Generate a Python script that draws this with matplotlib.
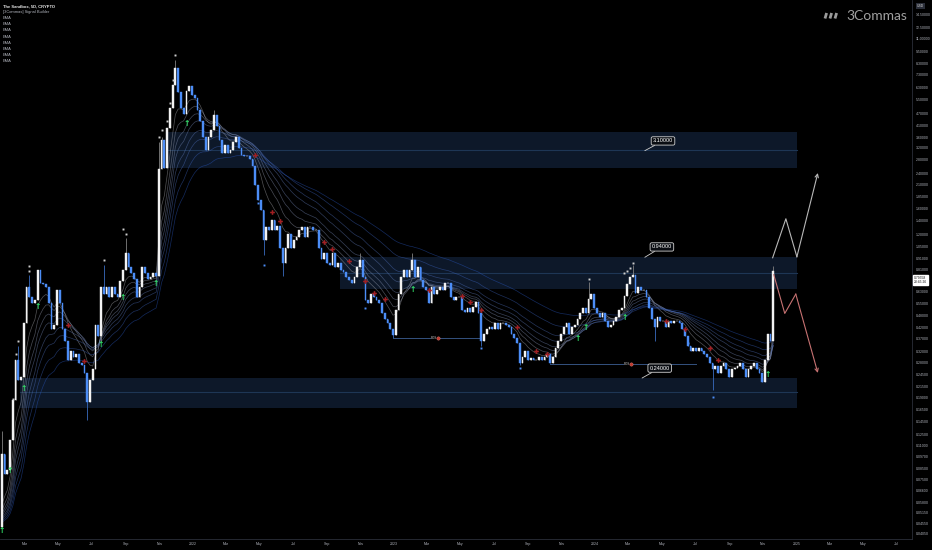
import numpy as np
import pandas as pd
import matplotlib
matplotlib.use("Agg")
import matplotlib.pyplot as plt
import matplotlib.dates as mdates
from matplotlib.lines import Line2D

plt.rcParams['font.family'] = ['Liberation Sans', 'DejaVu Sans']

# ---- The Sandbox 5D candles, closes ----
first_date = "2021-01-19"
first_open = 0.044
closes = [
    0.10, 0.080, 0.083, 0.117, 0.184, 0.289, 0.23, 0.24, 0.44, 0.66,
    0.59, 0.55, 0.57, 0.80, 0.69, 0.68, 0.66, 0.55, 0.41, 0.43,
    0.64, 0.55, 0.41, 0.36, 0.29, 0.32, 0.30, 0.31, 0.28, 0.275,
    0.25, 0.18, 0.23, 0.26, 0.43, 0.38, 0.66, 0.61, 0.66, 0.59,
    0.66, 0.61, 0.59, 0.71, 0.80, 0.97, 0.83, 0.77, 0.72, 0.59,
    0.66, 0.83, 0.77, 0.72, 0.74, 0.77, 0.75, 2.5, 3.5, 2.55,
    4.0, 5.0, 6.5, 7.9, 6.0, 5.0, 4.7, 6.1, 6.4, 5.8,
    5.6, 4.9, 4.3, 3.6, 3.1, 3.6, 3.9, 4.6, 4.1, 3.5,
    3.0, 3.3, 3.0, 3.1, 3.4, 3.6, 3.2, 2.95, 2.9, 2.9,
    2.8, 2.6,
    2.09, 1.77, 1.58, 1.12, 1.30, 1.26, 1.41, 1.26, 1.32, 1.03,
    0.87, 1.03, 1.21, 1.03, 1.12, 1.16, 1.26, 1.30, 1.16, 1.30,
    1.30, 1.26, 1.26, 1.03, 0.91, 0.97, 0.87, 0.85, 0.97, 0.83,
    0.87, 0.80, 0.78, 0.74, 0.715, 0.69, 0.74, 0.83, 0.896, 0.74,
    0.57, 0.55, 0.61, 0.59, 0.57, 0.55, 0.49, 0.46, 0.44, 0.41,
    0.385, 0.51, 0.61, 0.74, 0.80, 0.74, 0.80, 0.896, 0.74, 0.83,
    0.715, 0.66, 0.64, 0.55, 0.66, 0.61, 0.64, 0.66, 0.64, 0.69,
    0.69, 0.59, 0.57, 0.59, 0.59, 0.51, 0.50, 0.52, 0.50, 0.53,
    0.56, 0.49, 0.36, 0.39, 0.41, 0.42, 0.41, 0.44, 0.41, 0.44,
    0.44, 0.43, 0.42, 0.39, 0.37, 0.35,
    0.28, 0.30, 0.32, 0.29, 0.295, 0.29, 0.29, 0.30, 0.29, 0.30,
    0.31, 0.28, 0.30, 0.33, 0.36, 0.39, 0.42, 0.44, 0.39, 0.42,
    0.43, 0.46, 0.49, 0.52, 0.49, 0.58, 0.61, 0.52, 0.49, 0.47,
    0.49, 0.45, 0.42, 0.43, 0.45, 0.47, 0.51, 0.52, 0.60, 0.68,
    0.74, 0.76, 0.62, 0.66, 0.64, 0.64, 0.59, 0.52, 0.46, 0.42,
    0.47, 0.45, 0.45, 0.42, 0.45, 0.44, 0.45, 0.45, 0.44, 0.41,
    0.38, 0.34, 0.32, 0.33, 0.32, 0.33, 0.32, 0.31, 0.30, 0.28,
    0.26, 0.27, 0.25, 0.27, 0.28, 0.26, 0.24, 0.26, 0.265, 0.27,
    0.28, 0.26, 0.24, 0.26, 0.27, 0.28, 0.26, 0.25, 0.225, 0.29,
    0.39, 0.36, 0.79558,
]
# notable wicks only (candle index: price)
wick_high = {0: 0.13, 6: 0.34, 10: 0.76, 37: 0.85, 45: 1.15, 57: 3.4, 58: 3.6,
             63: 8.6, 77: 4.9, 130: 0.97, 149: 0.97, 213: 0.70, 229: 0.85, 280: 0.84}
wick_low = {31: 0.147, 36: 0.36, 95: 0.95, 102: 0.75, 142: 0.37, 174: 0.34,
            188: 0.275, 237: 0.36, 258: 0.206}

ema_periods = [8, 12, 16, 20, 26, 32, 42, 55]

# supply / demand zones
zone_start = ["2021-11-15", "2022-09-25", "2021-02-21"]
zone_end = ["2025-01-01", "2025-01-01", "2025-01-01"]
zone_top = [3.82, 0.925, 0.235]
zone_mid = [3.10, 0.772, 0.201]
zone_bottom = [2.54, 0.644, 0.168]

level_text = ["3.10000", "0.94000", "0.24000"]
level_box_date = ["2024-05-03", "2024-05-01", "2024-04-27"]
level_box_price = [3.45, 1.04, 0.264]
level_tip_date = ["2024-03-31", "2024-03-31", "2024-03-26"]
level_tip_price = [3.09, 0.925, 0.236]

# break of structure lines (candle index from/to)
bos_from = [142, 199]
bos_to = [174, 252]
bos_price = [0.37, 0.278]
bos_label_at = [157, 227]

# signals
green_idx = [0, 3, 8, 13, 36, 44, 56, 67, 149, 209, 212, 226, 278]
green_price = [0.042, 0.083, 0.21, 0.53, 0.345, 0.59, 0.69, 4.2, 0.645, 0.37, 0.42, 0.47, 0.245]
red_idx = [24, 30, 92, 98, 101, 117, 120, 126, 132, 135, 139, 155, 167, 170, 174,
           187, 194, 198, 241, 248, 257, 260]
red_price = [0.43, 0.285, 2.93, 1.55, 1.39, 1.10, 1.02, 0.89, 0.71, 0.62, 0.58, 0.64,
             0.60, 0.56, 0.51, 0.42, 0.32, 0.31, 0.45, 0.41, 0.33, 0.29]
hh_idx = [4, 5, 6, 10, 10, 37, 44, 45, 57, 58, 60, 61, 62, 63, 213, 226, 227, 228, 229]
hh_price = [0.187, 0.31, 0.36, 0.84, 0.79, 0.90, 1.27, 1.20, 3.6, 3.9, 4.3, 5.3, 6.9, 9.1,
            0.72, 0.77, 0.79, 0.82, 0.87]
ll_idx = [93, 95, 132, 174, 188, 249, 258]
ll_price = [1.71, 0.85, 0.52, 0.33, 0.265, 0.35, 0.19]

# hand drawn projections
proj_up_dates = ["2024-11-18", "2024-12-12", "2025-01-01", "2025-02-08"]
proj_up_prices = [0.92, 1.43, 0.93, 2.4]
proj_dn_dates = ["2024-11-20", "2024-12-10", "2024-12-30", "2025-02-08"]
proj_dn_prices = [0.76, 0.49, 0.61, 0.25]

y_ticks = [14.5, 12.5, 11.0, 9.5, 8.3, 7.3, 6.3, 5.5, 4.7, 4.1, 3.6, 3.2, 2.8, 2.4, 2.1,
           1.85, 1.6, 1.4, 1.2, 1.05, 0.91, 0.81, 0.63, 0.55, 0.48, 0.42, 0.37, 0.32,
           0.28, 0.245, 0.215, 0.19, 0.165, 0.145, 0.125, 0.11, 0.097, 0.085, 0.075,
           0.066, 0.058, 0.0515, 0.0455, 0.0405]
x_tick_labels = ["Mar", "May", "Jul", "Sep", "Nov", "2022", "Mar", "May", "Jul", "Sep", "Nov",
                 "2023", "Mar", "May", "Jul", "Sep", "Nov", "2024", "Mar", "May", "Jul",
                 "Sep", "Nov", "2025", "Mar", "May", "Jul"]

# ---- build ohlc ----
closes = np.array(closes)
opens = np.concatenate([[first_open], closes[:-1]])
highs = np.maximum(opens, closes)
lows = np.minimum(opens, closes)
for k, v in wick_high.items():
    highs[k] = v
for k, v in wick_low.items():
    lows[k] = v
dates = pd.date_range(first_date, periods=len(closes), freq="5D")
xs = mdates.date2num(dates.to_pydatetime())
up = closes >= opens

def dnum(d):
    return mdates.date2num(pd.Timestamp(d).to_pydatetime())

fig = plt.figure(figsize=(9.32, 5.5), dpi=100, facecolor="black")
ax = fig.add_axes([0, 11 / 550, 912 / 932, 539 / 550])
ax.set_facecolor("black")
ax.set_yscale("log")

# zones
for s, e, t, m, b in zip(zone_start, zone_end, zone_top, zone_mid, zone_bottom):
    ax.fill_between([dnum(s), dnum(e)], [b, b], [t, t], color="#0d1829", lw=0, zorder=1)
    ax.plot([dnum(s), dnum(e)], [m, m], color="#1e3655", lw=0.8, zorder=1.5)

# EMA ribbon
seed = pd.Series(np.concatenate([[first_open], closes]))
c_fast = np.array([0.72, 0.72, 0.74])
c_slow = np.array([0.17, 0.36, 0.80])
for j, n in enumerate(ema_periods):
    ema = seed.ewm(span=n, adjust=False).mean().values[1:]
    f = j / (len(ema_periods) - 1)
    col = c_fast * (1 - f) + c_slow * f
    ax.plot(xs, ema, color=col, lw=0.5, alpha=0.45, zorder=2)

# candles
body_col = np.where(up, "#f2f2f2", "#4c8df6")
wick_col = np.where(up, "#808080", "#3a6cc0")
ax.vlines(xs, lows, highs, colors=wick_col, lw=0.6, zorder=3)
ax.bar(xs, np.abs(closes - opens), bottom=np.minimum(opens, closes), width=3.2,
       color=body_col, edgecolor=body_col, linewidth=0.3, zorder=4)

# BOS lines
for a, b, p, l in zip(bos_from, bos_to, bos_price, bos_label_at):
    ax.plot([xs[a], xs[b]], [p, p], color="#34527f", lw=0.7, zorder=3.5)
    ax.text(xs[l], p, "BOS", fontsize=2.2, color="#d0d0d0", ha="center", va="center", zorder=6,
            bbox=dict(boxstyle="square,pad=0.15", fc="black", ec="none"))
    ax.plot(xs[l] + 7, p, "o", ms=2.4, color="#c0392b", mec="#e08080", mew=0.3, zorder=6)

# signal markers
for i, p in zip(green_idx, green_price):
    ax.text(xs[i], p, "\u2191", fontsize=5.5, color="#33e36a", ha="center", va="center",
            fontweight="bold", family="DejaVu Sans", zorder=7)
ax.plot(xs[red_idx], red_price, "P", ms=3.4, color="#a11f22", mew=0, zorder=7)
ax.plot(xs[hh_idx], hh_price, "s", ms=1.4, color="#cfcfcf", mew=0, zorder=7)
ax.plot(xs[ll_idx], ll_price, "s", ms=1.4, color="#4c8df6", mew=0, zorder=7)

# level callouts
for t, bd, bp, td, tp in zip(level_text, level_box_date, level_box_price, level_tip_date, level_tip_price):
    ax.annotate(t, xy=(dnum(td), tp), xytext=(dnum(bd), bp), fontsize=4.0, color="white",
                ha="center", va="center", zorder=8,
                bbox=dict(boxstyle="round,pad=0.3,rounding_size=0.3", fc="#0a0d12", ec="#cfcfcf", lw=0.6),
                arrowprops=dict(arrowstyle="-", color="#cfcfcf", lw=0.6, shrinkA=0, shrinkB=0))

# projections
pu = [dnum(d) for d in proj_up_dates]
pd_ = [dnum(d) for d in proj_dn_dates]
ax.plot(pu[:-1], proj_up_prices[:-1], color="#b8b8b8", lw=0.8, zorder=5)
ax.annotate("", xy=(pu[-1], proj_up_prices[-1]), xytext=(pu[-2], proj_up_prices[-2]),
            arrowprops=dict(arrowstyle="->", color="#b8b8b8", lw=0.8, mutation_scale=6, shrinkA=0, shrinkB=0))
ax.plot(pd_[:-1], proj_dn_prices[:-1], color="#c77272", lw=0.8, zorder=5)
ax.annotate("", xy=(pd_[-1], proj_dn_prices[-1]), xytext=(pd_[-2], proj_dn_prices[-2]),
            arrowprops=dict(arrowstyle="->", color="#c77272", lw=0.8, mutation_scale=6, shrinkA=0, shrinkB=0))

# axes
ax.set_xlim(dnum("2021-01-15 17:00"), dnum("2025-07-28 22:00"))
ax.set_ylim(0.0382, 16.99)
ax.yaxis.tick_right()
ax.yaxis.set_minor_locator(matplotlib.ticker.NullLocator())
ax.set_yticks(y_ticks)
ax.set_yticklabels(["%.5f" % v for v in y_ticks])
ax.tick_params(axis="y", length=0, pad=2.5, labelsize=2.5, labelcolor="#b2b5be")
tick_dates = pd.date_range("2021-03-01", "2025-07-01", freq="2MS")
ax.set_xticks(mdates.date2num(tick_dates.to_pydatetime()))
ax.set_xticklabels(x_tick_labels)
ax.tick_params(axis="x", length=0, pad=2.5, labelsize=2.5, labelcolor="#b2b5be")
ax.xaxis.set_minor_locator(matplotlib.ticker.NullLocator())
for s in ["top", "left"]:
    ax.spines[s].set_visible(False)
ax.spines["right"].set_color("#2a2e39")
ax.spines["bottom"].set_color("#2a2e39")
ax.spines["right"].set_linewidth(0.6)
ax.spines["bottom"].set_linewidth(0.6)

# legend text top left
fig.text(3 / 932, 1 - 6 / 550, "The Sandbox, 5D, CRYPTO", fontsize=3.0, color="#e6e6e6",
         fontweight="bold", va="center")
legend_lines = ["[3Commas] Signal Builder"] + ["EMA"] * len(ema_periods)
for k, t in enumerate(legend_lines):
    fig.text(3 / 932, 1 - (12.1 + 6.1 * k) / 550, t, fontsize=2.9, color="#b2b5be", va="center")

# logo
for xl in [825, 830, 835]:
    fig.add_artist(Line2D([xl / 932, (xl + 1.6) / 932], [1 - 18.5 / 550, 1 - 13 / 550],
                          color="#9a9a9a", lw=2.0, solid_capstyle="butt"))
fig.text(846 / 932, 1 - 16 / 550, "3Commas", fontsize=10, color="#a0a0a0", va="center",
         family="Lato")

# price scale extras
fig.text(917 / 932, 1 - 6 / 550, "USD", fontsize=2.4, color="#d0d0d0", ha="left", va="center",
         bbox=dict(boxstyle="square,pad=0.4", fc="#2a2e39", ec="none"))
fig.text(914 / 932, 1 - 280 / 550, "0.79558\n23:45:26", fontsize=2.4, color="#111111",
         ha="left", va="center", linespacing=1.2,
         bbox=dict(boxstyle="square,pad=0.3", fc="white", ec="white"))

fig.savefig("out.png", dpi=100, facecolor="black")
